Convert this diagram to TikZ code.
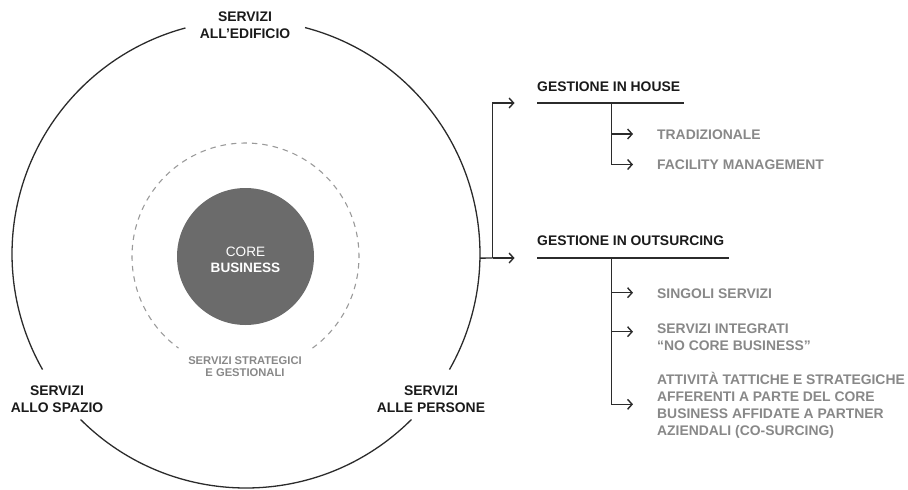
\documentclass[tikz,border=0pt]{standalone}
\usepackage{fontspec}
\setmainfont{Liberation Sans}
\usetikzlibrary{arrows.meta,calc}

\definecolor{inkdark}{HTML}{1A1A1A}
\definecolor{inkgray}{HTML}{888888}
\definecolor{linedark}{HTML}{2B2B2B}
\definecolor{dashgray}{HTML}{9A9A9A}
\definecolor{corefill}{HTML}{6B6B6B}

\tikzset{
  lbl/.style={inner sep=0pt, anchor=base, font=\fontsize{13.9}{17}\selectfont\bfseries, text=inkdark},
  head/.style={lbl, anchor=base west},
  item/.style={inner sep=0pt, anchor=base west, font=\fontsize{13.9}{17}\selectfont\bfseries, text=inkgray},
  small/.style={inner sep=0pt, anchor=base, font=\fontsize{11.2}{13}\selectfont\bfseries, text=inkgray},
  wire/.style={draw=linedark, line width=1.4pt},
  ring/.style={draw=linedark, line width=1.3pt},
  tip/.style={wire, -{Straight Barb[length=4.5pt,width=10pt,line width=1.4pt]}},
}

\begin{document}
\begin{tikzpicture}[x=1pt,y=1pt]
\useasboundingbox (0,0) rectangle (908,-490);

% outer ring, broken where the three service labels sit
\coordinate (C) at (246,-254);
\draw[ring] ($(C)+(105:234)$) arc[start angle=105, end angle=209.6, radius=234];
\draw[ring] ($(C)+(225:234)$) arc[start angle=225, end angle=315, radius=234];
\draw[ring] ($(C)+(330.4:234)$) arc[start angle=330.4, end angle=435.4, radius=234];

% dashed ring of strategic services
\coordinate (D) at (245.5,-256.5);
\draw[dashgray, line width=1.1pt, dash pattern=on 5.5pt off 5pt]
  ($(D)+(306.2:113.5)$) arc[start angle=306.2, end angle=593.8, radius=113.5];

% core business disc
\node[circle, fill=corefill, minimum size=137pt, inner sep=0pt] (core) at (D) {};
\node[inner sep=0pt, anchor=base, font=\fontsize{13.6}{16}\selectfont, text=white] (coreA) at (245.5,-256) {CORE};
\node[inner sep=0pt, anchor=base, font=\fontsize{13.6}{16}\selectfont\bfseries, text=white] (coreB) at (245.5,-272.7) {BUSINESS};

% ring labels
\node[lbl] (edA) at (245,-21) {SERVIZI};
\node[lbl] (edB) at (245,-38) {ALL'EDIFICIO};
\node[lbl] (spA) at (57,-395) {SERVIZI};
\node[lbl] (spB) at (57,-412) {ALLO SPAZIO};
\node[lbl] (peA) at (431,-395) {SERVIZI};
\node[lbl] (peB) at (431,-412) {ALLE PERSONE};
\node[small] (stA) at (245,-364) {SERVIZI STRATEGICI};
\node[small] (stB) at (245,-376.5) {E GESTIONALI};

% management branches
\coordinate (ringR) at ($(C)+(-1:234)$);
\coordinate (split) at (492.7,-258);
\coordinate (toHouse) at (514.5,-103);
\coordinate (toOut) at (514.5,-258);
\draw[wire] (ringR) -- (split);
\draw[tip] (split) -- (toOut);
\draw[tip] (split) |- (toHouse);

% in-house
\node[head] (house) at (537,-91.8) {GESTIONE IN HOUSE};
\coordinate (hL) at (537,-103);
\coordinate (hR) at (684,-103);
\coordinate (hV) at (611.5,-103);
\draw[wire] (hL) -- (hR);
\node[item] (trad) at (657,-139) {TRADIZIONALE};
\node[item] (fac) at (657,-169.8) {FACILITY MANAGEMENT};
\coordinate (aTrad) at (633,-134);
\coordinate (aFac) at (633,-164.5);
\draw[tip] (hV) |- (aFac);
\draw[tip] (hV |- aTrad) -- (aTrad);

% outsourcing
\node[head] (out) at (537,-245.2) {GESTIONE IN OUTSURCING};
\coordinate (oL) at (537,-258);
\coordinate (oR) at (729,-258);
\coordinate (oV) at (611.5,-258);
\draw[wire] (oL) -- (oR);
\node[item] (sing) at (657,-298.3) {SINGOLI SERVIZI};
\node[item] (intA) at (657,-333) {SERVIZI INTEGRATI};
\node[item] (intB) at (657,-350.5) {“NO CORE BUSINESS”};
\node[item] (attA) at (657,-384) {ATTIVITÀ TATTICHE E STRATEGICHE};
\node[item] (attB) at (657,-401.3) {AFFERENTI A PARTE DEL CORE};
\node[item] (attC) at (657,-418.5) {BUSINESS AFFIDATE A PARTNER};
\node[item] (attD) at (657,-435.7) {AZIENDALI (CO-SURCING)};
\coordinate (aSing) at (633,-292.7);
\coordinate (aInt) at (633,-331.7);
\coordinate (aAtt) at (633,-404.3);
\draw[tip] (oV) |- (aAtt);
\draw[tip] (oV |- aSing) -- (aSing);
\draw[tip] (oV |- aInt) -- (aInt);
\end{tikzpicture}
\end{document}
